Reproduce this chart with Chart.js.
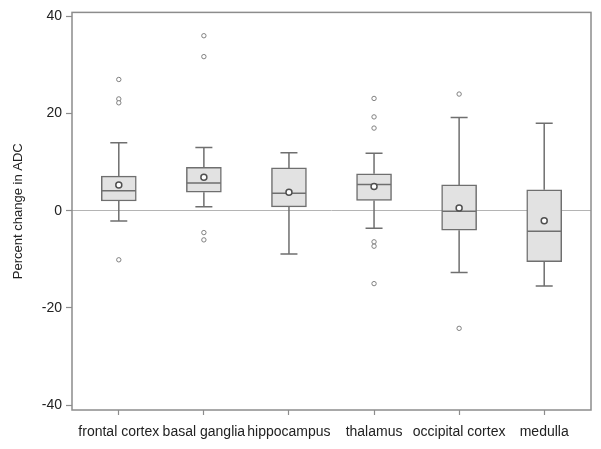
<!DOCTYPE html>
<html>
<head>
<meta charset="utf-8">
<script src="https://cdn.jsdelivr.net/npm/chart.js@4"></script>
<style>
  html, body { margin: 0; padding: 0; background: #fff; }
  #wrap { width: 601px; height: 449px; }
</style>
</head>
<body>
<div id="wrap"><canvas id="boxChart" width="601" height="449"></canvas></div>
<script>
// Box plot data
const categories = ['frontal cortex', 'basal ganglia', 'hippocampus', 'thalamus', 'occipital cortex', 'medulla'];
const whiskerLow = [-2.1, 0.8, -8.9, -3.6, -12.7, -15.5];
const q1 = [2.0, 3.8, 0.8, 2.1, -4.0, -10.5];
const median = [4.1, 5.7, 3.6, 5.4, -0.1, -4.2];
const q3 = [7.1, 8.9, 8.8, 7.6, 5.3, 4.3];
const whiskerHigh = [14.0, 13.0, 11.9, 11.8, 19.2, 18.0];
const means = [5.3, 6.9, 3.8, 5.0, 0.55, -2.05];
const outliers = [
    [27.0, 23.0, 22.2, -10.1],
    [36.0, 31.7, -4.5, -6.0],
    [],
    [23.1, 19.3, 17.0, -6.4, -7.3, -15.0],
    [24.0, -24.2],
    []
];
const yTicks = [-40, -20, 0, 20, 40];

const lineColor = '#6f6f6f';
const frameColor = '#8c8c8c';

// whiskers + median lines, drawn right after the boxes
const whiskerPlugin = {
    id: 'whiskers',
    afterDatasetDraw(chart, args) {
        if (args.meta.type !== 'bar') return;
        const ctx = chart.ctx;
        const xs = chart.scales.x, ys = chart.scales.y;
        const half = 17, cap = 8.5;
        ctx.save();
        ctx.strokeStyle = lineColor;
        ctx.lineWidth = 1.5;
        categories.forEach(function(c, i) {
            const x = xs.getPixelForValue(i);
            const yLo = ys.getPixelForValue(whiskerLow[i]);
            const yHi = ys.getPixelForValue(whiskerHigh[i]);
            const y1 = ys.getPixelForValue(q1[i]);
            const y3 = ys.getPixelForValue(q3[i]);
            const yMed = ys.getPixelForValue(median[i]);
            ctx.beginPath();
            ctx.moveTo(x, y3); ctx.lineTo(x, yHi);
            ctx.moveTo(x - cap, yHi); ctx.lineTo(x + cap, yHi);
            ctx.moveTo(x, y1); ctx.lineTo(x, yLo);
            ctx.moveTo(x - cap, yLo); ctx.lineTo(x + cap, yLo);
            ctx.moveTo(x - half, yMed); ctx.lineTo(x + half, yMed);
            ctx.stroke();
        });
        ctx.restore();
    },
    afterDraw(chart) {
        const a = chart.chartArea;
        const ctx = chart.ctx;
        ctx.save();
        ctx.strokeStyle = frameColor;
        ctx.lineWidth = 1.5;
        ctx.strokeRect(a.left, a.top, a.right - a.left, a.bottom - a.top);
        ctx.restore();
    }
};

const outlierPoints = [];
outliers.forEach(function(list, i) {
    list.forEach(function(v) { outlierPoints.push({ x: i, y: v }); });
});

new Chart(document.getElementById('boxChart').getContext('2d'), {
    data: {
        datasets: [
            {
                type: 'bar',
                order: 3,
                data: categories.map(function(c, i) { return { x: i, y: [q1[i], q3[i]] }; }),
                backgroundColor: '#e2e2e2',
                borderColor: lineColor,
                borderWidth: 1.5,
                borderSkipped: false,
                barThickness: 35
            },
            {
                type: 'scatter',
                order: 2,
                data: outlierPoints,
                pointRadius: 2.2,
                pointBorderWidth: 1,
                pointBackgroundColor: '#fff',
                pointBorderColor: '#808080'
            },
            {
                type: 'scatter',
                order: 1,
                data: categories.map(function(c, i) { return { x: i, y: means[i] }; }),
                pointRadius: 3,
                pointBorderWidth: 1.5,
                pointBackgroundColor: '#fff',
                pointBorderColor: '#505050'
            }
        ]
    },
    options: {
        responsive: false,
        animation: false,
        events: [],
        layout: { padding: { top: 12, right: 10, left: 0, bottom: 0 } },
        plugins: { legend: { display: false }, tooltip: { enabled: false } },
        scales: {
            x: {
                type: 'linear',
                min: -0.55,
                max: 5.55,
                offset: false,
                afterBuildTicks: function(scale) {
                    scale.ticks = categories.map(function(c, i) { return { value: i }; });
                },
                afterFit: function(scale) { scale.height = 39; },
                ticks: {
                    autoSkip: false,
                    maxRotation: 0,
                    padding: 9,
                    color: '#222',
                    font: { family: 'Liberation Sans, Arial, sans-serif', size: 14 },
                    callback: function(v) { return categories[v]; }
                },
                grid: { offset: false, drawOnChartArea: false, tickLength: 5, tickColor: frameColor, tickWidth: 1.2 },
                border: { display: false }
            },
            y: {
                type: 'linear',
                min: -41,
                max: 40.8,
                afterBuildTicks: function(scale) {
                    scale.ticks = yTicks.map(function(v) { return { value: v }; });
                },
                afterFit: function(scale) { scale.width = 72; },
                title: {
                    display: true,
                    text: 'Percent change in ADC',
                    color: '#222',
                    padding: { top: 11, bottom: 0 },
                    font: { family: 'Liberation Sans, Arial, sans-serif', size: 13 }
                },
                ticks: {
                    padding: 4,
                    color: '#222',
                    font: { family: 'Liberation Sans, Arial, sans-serif', size: 14 }
                },
                grid: {
                    tickLength: 6,
                    tickColor: frameColor,
                    tickWidth: 1.2,
                    lineWidth: 1,
                    color: function(ctx) { return ctx.tick && ctx.tick.value === 0 ? '#b4b4b4' : 'rgba(0,0,0,0)'; }
                },
                border: { display: false }
            }
        }
    },
    plugins: [whiskerPlugin]
});
</script>
</body>
</html>
